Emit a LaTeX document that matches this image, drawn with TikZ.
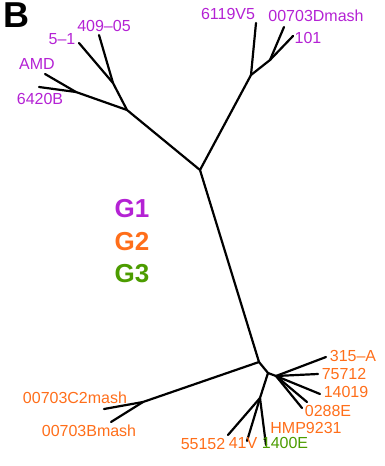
\documentclass[tikz,border=0pt]{standalone}
\usepackage{fontspec}
\setmainfont{Liberation Sans}
\definecolor{gone}{HTML}{B422D4}
\definecolor{gtwo}{HTML}{FF6E1A}
\definecolor{gthree}{HTML}{4C9C00}
\begin{document}
\begin{tikzpicture}[x=1pt,y=-1pt,
  br/.style={line width=2.2pt, line cap=round, line join=round},
  lbl/.style={font=\fontsize{16}{18}\selectfont, inner sep=0pt},
  p/.style={lbl, text=gone},
  o/.style={lbl, text=gtwo},
  gr/.style={lbl, text=gthree},
  big/.style={font=\fontsize{26}{30}\selectfont\bfseries, inner sep=0pt}]
\useasboundingbox (0,0) rectangle (384,466);
% internal nodes
\coordinate (A) at (200,170);
\coordinate (L) at (127,110);
\coordinate (N1) at (76,92);
\coordinate (N2) at (113,83);
\coordinate (R) at (251,75);
\coordinate (N3) at (270,60);
\coordinate (B) at (259,362);
\coordinate (C) at (143,402);
\coordinate (D) at (268,373);
\coordinate (E) at (276,376);
\coordinate (F) at (260,398);
% tips
\coordinate (tAMD) at (45,74);
\coordinate (t6420) at (39,87);
\coordinate (t51) at (79,43);
\coordinate (t409) at (99,35);
\coordinate (t6119) at (256,23);
\coordinate (tDm) at (284,27);
\coordinate (t101) at (293,36);
\coordinate (tC2) at (104,409);
\coordinate (tBm) at (111,422);
\coordinate (t315) at (326,357);
\coordinate (t757) at (318,374);
\coordinate (t140) at (320,394);
\coordinate (t028) at (307,402);
\coordinate (tHMP) at (302,408);
\coordinate (t551) at (228,435);
\coordinate (t41) at (247,441);
\coordinate (t1400) at (266,445);
% branches
\draw[br] (A) -- (L);
\draw[br] (L) -- (N1);
\draw[br] (N1) -- (tAMD);
\draw[br] (N1) -- (t6420);
\draw[br] (L) -- (N2);
\draw[br] (N2) -- (t51);
\draw[br] (N2) -- (t409);
\draw[br] (A) -- (R);
\draw[br] (R) -- (t6119);
\draw[br] (R) -- (N3);
\draw[br] (N3) -- (tDm);
\draw[br] (N3) -- (t101);
\draw[br] (A) -- (B);
\draw[br] (B) -- (C);
\draw[br] (C) -- (tC2);
\draw[br] (C) -- (tBm);
\draw[br] (B) -- (D);
\draw[br] (D) -- (E);
\draw[br] (E) -- (t315);
\draw[br] (E) -- (t757);
\draw[br] (E) -- (t140);
\draw[br] (E) -- (t028);
\draw[br] (E) -- (tHMP);
\draw[br] (D) -- (F);
\draw[br] (F) -- (t551);
\draw[br] (F) -- (t41);
\draw[br] (F) -- (t1400);
% labels
\node[font=\fontsize{36}{40}\selectfont\bfseries, inner sep=0pt, anchor=north west] (lB) at (3,3) {B};
\node[p] (l51) at (62,39) {5–1};
\node[p] (l409) at (104,26) {409–05};
\node[p] (lAMD) at (37,64) {AMD};
\node[p] (l6420) at (40,99) {6420B};
\node[p] (l6119) at (228,14) {6119V5};
\node[p] (lDm) at (316,16) {00703Dmash};
\node[p] (l101) at (308,38) {101};
\node[big, text=gone] (g1) at (132,209) {G1};
\node[big, text=gtwo] (g2) at (132,242) {G2};
\node[big, text=gthree] (g3) at (132,274) {G3};
\node[o] (lC2) at (75,398) {00703C2mash};
\node[o] (lBm) at (89,431) {00703Bmash};
\node[o] (l315) at (353,356) {315–A};
\node[o] (l757) at (344,374) {75712};
\node[o] (l140) at (346,392) {14019};
\node[o] (l028) at (328,411) {0288E};
\node[o] (lHMP) at (306,428) {HMP9231};
\node[o] (l551) at (203,444) {55152};
\node[o] (l41) at (243,443) {41V};
\node[gr] (l1400) at (285,443) {1400E};
\end{tikzpicture}
\end{document}
